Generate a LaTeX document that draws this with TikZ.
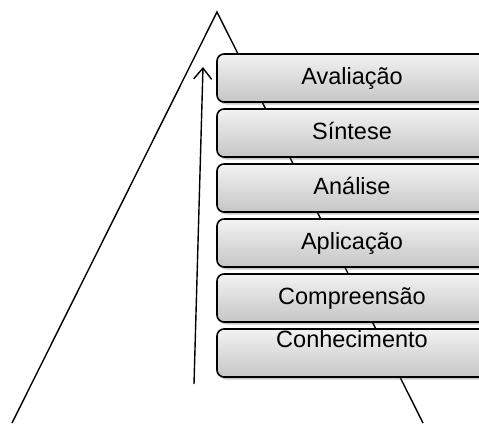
\documentclass[tikz,border=0pt]{standalone}
\usepackage{fontspec}
\setmainfont{Liberation Sans}
\usetikzlibrary{arrows.meta,shadows}
\tikzset{
  edge/.style={line width=1.4pt, black},
  level/.style={draw=black, line width=1.6pt, rounded corners=7pt,
    minimum width=270pt, minimum height=48pt, inner sep=0pt,
    top color=gray!10, bottom color=gray!45,
    drop shadow={shadow xshift=2pt, shadow yshift=-2.5pt, opacity=0.3, fill=black!70},
    font=\fontsize{23.5}{27}\selectfont, text height=17pt, text depth=5pt},
  lbl/.style={font=\fontsize{23.5}{27}\selectfont, text height=17pt, text depth=5pt, inner sep=0pt}
}
\begin{document}
\begin{tikzpicture}[x=1pt,y=-1pt]
\useasboundingbox (0,0) rectangle (479,423);
\clip (0,0) rectangle (479,423);
\coordinate (apex) at (217,12);
\coordinate (bl) at (12,423);
\coordinate (br) at (423,423);
\coordinate (as) at (194,384);
\coordinate (ae) at (203,67);
\draw[edge] (bl) -- (apex) -- (br);
\draw[edge, -{Straight Barb[length=11pt,width=18pt,line width=1.4pt]}] (as) -- (ae);
\node[level] (k1) at (352,78) {Avaliação};
\node[level] (k2) at (352,133) {Síntese};
\node[level] (k3) at (352,188) {Análise};
\node[level] (k4) at (352,243) {Aplicação};
\node[level] (k5) at (352,298) {Compreensão};
\node[level] (k6) at (352,353) {};
\node[lbl, anchor=north, yshift=-2pt] (t6) at (k6.north) {Conhecimento};
\end{tikzpicture}
\end{document}
